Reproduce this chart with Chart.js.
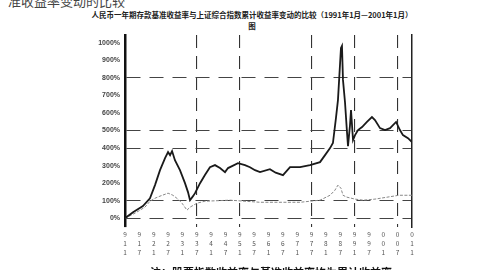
<!DOCTYPE html>
<html>
<head>
<meta charset="utf-8">
<script src="https://cdn.jsdelivr.net/npm/chart.js@4.4.1/dist/chart.umd.min.js"></script>
<style>
  html, body { margin: 0; padding: 0; background: #fff; overflow: hidden; }
  #wrap { position: relative; width: 484px; height: 270px; overflow: hidden; }
  #caption { position: absolute; left: 8px; top: -9px; font: 13px "Noto Sans CJK SC", sans-serif; color: #444; white-space: nowrap; }
  #title { position: absolute; left: 86px; width: 332px; top: 9px; font: bold 7.5px/11px "Noto Sans CJK SC", sans-serif; color: #222; text-align: center; }
  #xtitle { position: absolute; left: 150px; top: 267px; font: bold 11px/11px "Noto Sans CJK SC", sans-serif; color: #111; white-space: nowrap; }
  canvas { position: absolute; left: 0; top: 0; }
</style>
</head>
<body>
<div id="wrap">
  <div id="caption">准收益率变动的比较</div>
  <div id="title">人民币一年期存款基准收益率与上证综合指数累计收益率变动的比较（1991年1月—2001年1月）<br>图</div>
  <canvas id="chart" width="484" height="270"></canvas>
  <div id="xtitle">注：股票指数收益率与基准收益率均为累计收益率</div>
</div>
<script>
// Chart data
const xLabels = ['91.1','91.7','92.1','92.7','93.1','93.7','94.1','94.7','95.1','95.7','96.1',
                 '96.7','97.1','97.7','98.1','98.7','99.1','99.7','00.1','00.7','01.1'];
const yTickValues = [0, 1, 2, 3, 4, 5, 6, 7, 8, 9, 10];        // x100%
const yGridValues = [0, 1, 4, 5, 8];
const xGridIndices = [5, 8, 13, 16, 19];

// stock index cumulative return (position in label periods, value in 100%)
const stockX = [0, 0.56, 1.25, 1.74, 2.09, 2.44, 2.79, 3.0, 3.14, 3.28, 3.48, 3.83, 4.18, 4.39, 4.53, 4.74, 4.88,
                5.23, 5.57, 5.92, 6.27, 6.62, 6.97, 7.18, 7.46, 7.87, 8.36, 8.71, 9.06, 9.41, 10.1, 10.5, 11.01,
                11.5, 12.2, 12.89, 13.59, 13.94, 14.29, 14.49, 14.7, 14.84, 15.05, 15.12, 15.19, 15.33, 15.47,
                15.54, 15.68, 15.75, 15.89, 16.03, 16.24, 16.52, 16.86, 17.21, 17.42, 17.77, 18.12, 18.47,
                18.89, 19.16, 19.37, 19.72, 20.0];
const stockY = [0, 0.34, 0.69, 1.14, 1.89, 2.74, 3.43, 3.77, 3.6, 3.83, 3.31, 2.74, 2.0, 1.49, 1.03, 1.26, 1.43,
                2.0, 2.46, 2.91, 3.03, 2.86, 2.63, 2.86, 2.97, 3.14, 3.03, 2.91, 2.74, 2.63, 2.8, 2.6, 2.46,
                2.91, 2.91, 3.03, 3.2, 3.6, 4.0, 4.29, 5.71, 6.74, 9.71, 9.83, 7.89, 6.63, 4.91,
                4.11, 5.31, 6.17, 4.46, 4.74, 5.03, 5.2, 5.49, 5.77, 5.6, 5.14, 5.03, 5.14,
                5.49, 5.03, 4.74, 4.57, 4.34];

// benchmark cumulative return
const benchX = [0, 0.7, 1.39, 1.74, 2.09, 2.44, 3.0, 3.34, 3.69, 3.97, 4.32, 4.53, 5.02, 5.57, 7.32, 9.41,
                12.2, 13.59, 14.29, 14.63, 14.84, 15.05, 15.19, 15.47, 16.03, 16.59, 17.42, 18.26, 19.09, 20.0];
const benchY = [0, 0.29, 0.63, 0.97, 1.14, 1.26, 1.43, 1.31, 1.09, 0.86, 0.46, 0.63, 0.86, 0.97, 1.03, 0.91,
                0.91, 1.03, 1.31, 1.6, 1.89, 1.71, 1.31, 1.2, 1.09, 1.03, 1.09, 1.2, 1.31, 1.31];

const toPoints = (xs, ys) => xs.map((x, i) => ({ x: x, y: ys[i] }));

new Chart(document.getElementById('chart'), {
    type: 'line',
    data: {
        datasets: [{
            label: '股票指数',
            data: toPoints(stockX, stockY),
            borderColor: '#1a1a1a',
            borderWidth: 1.8,
            pointRadius: 0,
            tension: 0
        }, {
            label: '基准收益率',
            data: toPoints(benchX, benchY),
            borderColor: '#888',
            borderWidth: 1,
            borderDash: [3, 1.5],
            pointRadius: 0,
            tension: 0
        }]
    },
    options: {
        responsive: false,
        animation: false,
        layout: { padding: { top: 35, left: 0, right: 0, bottom: 0 } },
        plugins: { legend: { display: false }, tooltip: { enabled: false } },
        scales: {
            x: {
                type: 'linear',
                min: 0,
                max: 20,
                afterBuildTicks: function(scale) {
                    scale.ticks = xLabels.map((l, i) => ({ value: i }));
                },
                afterFit: function(scale) { scale.height = 43; },
                ticks: {
                    autoSkip: false,
                    maxRotation: 0,
                    padding: 3,
                    color: '#555',
                    font: { size: 6.5, lineHeight: 1.4, family: '"Noto Sans CJK SC", sans-serif' },
                    callback: function(value) {
                        const l = xLabels[Math.round(value)];
                        return l ? l.replace('.', '').split('') : '';
                    }
                },
                grid: {
                    drawTicks: false,
                    lineWidth: 1.1,
                    color: function(ctx) {
                        return ctx.tick && xGridIndices.includes(ctx.tick.value) ? '#333' : 'rgba(0,0,0,0)';
                    }
                },
                border: { display: false, dash: [13, 8] }
            },
            y: {
                min: -0.5,
                max: 10.45,
                afterBuildTicks: function(scale) {
                    scale.ticks = yTickValues.map(v => ({ value: v }));
                },
                afterFit: function(scale) { scale.width = 125; },
                ticks: {
                    padding: 5,
                    color: '#444',
                    font: { size: 7, family: '"Liberation Sans", sans-serif', weight: 'bold' },
                    callback: function(value) { return (value * 100) + '%'; }
                },
                grid: {
                    drawTicks: false,
                    lineWidth: 1.1,
                    color: function(ctx) {
                        return ctx.tick && yGridValues.includes(ctx.tick.value) ? '#444' : 'rgba(0,0,0,0)';
                    }
                },
                border: { display: true, color: '#111', width: 2.5, dash: [14, 9] }
            },
            y2: {
                position: 'right',
                min: 0,
                max: 10,
                afterFit: function(scale) { scale.width = 72; },
                ticks: { display: false },
                grid: { display: false },
                border: { display: true, color: '#222', width: 1.5 }
            }
        }
    }
});
</script>
</body>
</html>
